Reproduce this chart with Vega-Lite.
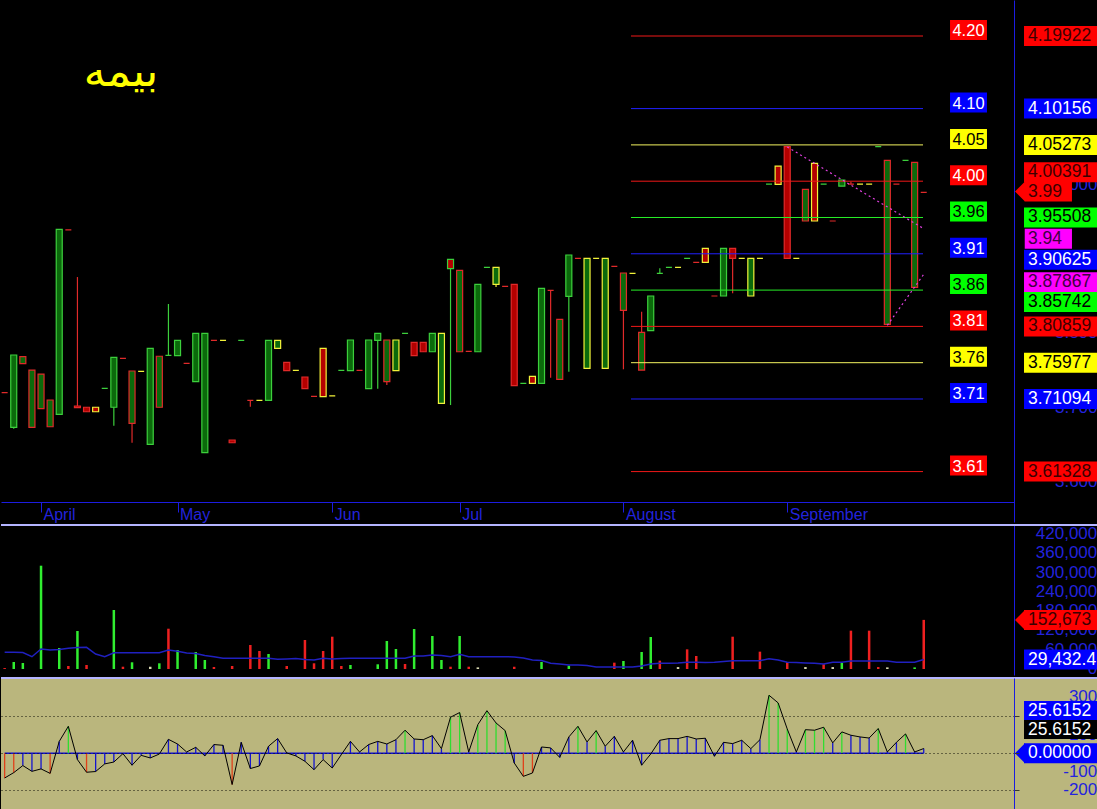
{
"$schema": "https://vega.github.io/schema/vega-lite/v6.json",
"background": "#000000",
"padding": 0,
"spacing": 3,
"bounds": "flush",
"config": {"view": {"stroke": null}, "axis": {"labelFont": "Liberation Sans", "labelOverlap": false}, "scale": {"continuousPadding": 0}},
"datasets": {
"bars": [
{"i":0,"o":3.7194,"h":3.7194,"l":3.7194,"c":3.7194,"e":"dn","vol":3000,"vd":"dn","ma":51900,"osc":-133},
{"i":1,"o":3.6728,"h":3.7701,"l":3.671,"c":3.7701,"e":"up","vol":21760,"vd":"up","ma":51900,"osc":-104},
{"i":2,"o":3.7584,"h":3.7678,"l":3.7584,"c":3.7678,"e":"dn","vol":18650,"vd":"up","ma":51000,"osc":-66},
{"i":3,"o":3.6728,"h":3.7499,"l":3.6728,"c":3.7499,"e":"dn","vol":0,"vd":"up","ma":38240,"osc":-97},
{"i":4,"o":3.6979,"h":3.7445,"l":3.6979,"c":3.7445,"e":"dn","vol":321150,"vd":"up","ma":62180,"osc":-84},
{"i":5,"o":3.6736,"h":3.7096,"l":3.6736,"c":3.7096,"e":"dn","vol":0,"vd":"dn","ma":59070,"osc":-108},
{"i":6,"o":3.6903,"h":3.9392,"l":3.6903,"c":3.9392,"e":"up","vol":65290,"vd":"up","ma":60600,"osc":64},
{"i":7,"o":3.9383,"h":3.9383,"l":3.9383,"c":3.9383,"e":"dn","vol":9330,"vd":"dn","ma":64350,"osc":145},
{"i":8,"o":3.7015,"h":3.875,"l":3.6992,"c":3.6992,"e":"dn","vol":118130,"vd":"up","ma":66800,"osc":-34},
{"i":9,"o":3.6998,"h":3.6998,"l":3.6938,"c":3.6938,"e":"dn","vol":12430,"vd":"dn","ma":67500,"osc":-102},
{"i":10,"o":3.6998,"h":3.6998,"l":3.6938,"c":3.6938,"e":"fl","vol":0,"vd":"dn","ma":46630,"osc":-98},
{"i":11,"o":3.7253,"h":3.7253,"l":3.7253,"c":3.7253,"e":"up","vol":0,"vd":"up","ma":38240,"osc":-57},
{"i":12,"o":3.6998,"h":3.767,"l":3.675,"c":3.767,"e":"up","vol":183420,"vd":"up","ma":50670,"osc":-47},
{"i":13,"o":3.7657,"h":3.7657,"l":3.7657,"c":3.7657,"e":"dn","vol":7150,"vd":"dn","ma":50670,"osc":-2},
{"i":14,"o":3.6782,"h":3.7486,"l":3.6521,"c":3.7486,"e":"dn","vol":20830,"vd":"up","ma":50670,"osc":-64},
{"i":15,"o":3.7482,"h":3.7482,"l":3.7482,"c":3.7482,"e":"fl","vol":0,"vd":"fl","ma":50670,"osc":-11},
{"i":16,"o":3.65,"h":3.7791,"l":3.65,"c":3.7791,"e":"up","vol":7000,"vd":"fl","ma":50670,"osc":-25},
{"i":17,"o":3.6998,"h":3.7684,"l":3.6998,"c":3.7684,"e":"dn","vol":17720,"vd":"up","ma":50670,"osc":-4},
{"i":18,"o":3.7697,"h":3.8387,"l":3.7697,"c":3.7697,"e":"up","vol":125280,"vd":"dn","ma":59070,"osc":75},
{"i":19,"o":3.7692,"h":3.7899,"l":3.7692,"c":3.7899,"e":"up","vol":59070,"vd":"up","ma":55000,"osc":50},
{"i":20,"o":3.7589,"h":3.7589,"l":3.7589,"c":3.7589,"e":"dn","vol":0,"vd":"dn","ma":49740,"osc":7},
{"i":21,"o":3.7342,"h":3.7993,"l":3.7342,"c":3.7993,"e":"up","vol":52850,"vd":"up","ma":48190,"osc":32},
{"i":22,"o":3.6387,"h":3.7993,"l":3.6387,"c":3.7993,"e":"up","vol":27980,"vd":"up","ma":41970,"osc":-14},
{"i":23,"o":3.7899,"h":3.7899,"l":3.7899,"c":3.7899,"e":"dn","vol":6200,"vd":"dn","ma":38240,"osc":47},
{"i":24,"o":3.7899,"h":3.7899,"l":3.7899,"c":3.7899,"e":"fl","vol":0,"vd":"fl","ma":33260,"osc":43},
{"i":25,"o":3.6558,"h":3.6558,"l":3.6521,"c":3.6521,"e":"dn","vol":9330,"vd":"dn","ma":33260,"osc":-168},
{"i":26,"o":3.7899,"h":3.7899,"l":3.7899,"c":3.7899,"e":"up","vol":0,"vd":"up","ma":33260,"osc":59},
{"i":27,"o":3.7092,"h":3.7092,"l":3.7006,"c":3.7092,"e":"dn","vol":74610,"vd":"dn","ma":33260,"osc":-82},
{"i":28,"o":3.7092,"h":3.7092,"l":3.7092,"c":3.7092,"e":"fl","vol":55960,"vd":"dn","ma":33260,"osc":-68},
{"i":29,"o":3.7092,"h":3.7899,"l":3.7092,"c":3.7899,"e":"up","vol":46630,"vd":"up","ma":33260,"osc":38},
{"i":30,"o":3.7791,"h":3.7899,"l":3.7791,"c":3.7899,"e":"fl","vol":0,"vd":"up","ma":30150,"osc":79},
{"i":31,"o":3.7603,"h":3.7603,"l":3.749,"c":3.749,"e":"dn","vol":9330,"vd":"dn","ma":31090,"osc":2},
{"i":32,"o":3.7495,"h":3.7495,"l":3.7495,"c":3.7495,"e":"fl","vol":0,"vd":"fl","ma":32640,"osc":-14},
{"i":33,"o":3.7405,"h":3.7405,"l":3.7248,"c":3.7248,"e":"dn","vol":90160,"vd":"dn","ma":29530,"osc":-43},
{"i":34,"o":3.7145,"h":3.7145,"l":3.7145,"c":3.7145,"e":"dn","vol":17720,"vd":"dn","ma":27980,"osc":-88},
{"i":35,"o":3.7791,"h":3.7791,"l":3.714,"c":3.714,"e":"fl","vol":55960,"vd":"dn","ma":33260,"osc":-34},
{"i":36,"o":3.715,"h":3.715,"l":3.715,"c":3.715,"e":"fl","vol":100420,"vd":"dn","ma":31090,"osc":-79},
{"i":37,"o":3.7495,"h":3.7495,"l":3.7495,"c":3.7495,"e":"up","vol":9330,"vd":"dn","ma":32640,"osc":-7},
{"i":38,"o":3.749,"h":3.7903,"l":3.749,"c":3.7903,"e":"up","vol":12430,"vd":"up","ma":33260,"osc":64},
{"i":39,"o":3.7495,"h":3.7495,"l":3.7495,"c":3.7495,"e":"dn","vol":0,"vd":"dn","ma":33260,"osc":7},
{"i":40,"o":3.7248,"h":3.7903,"l":3.7248,"c":3.7903,"e":"up","vol":0,"vd":"up","ma":33260,"osc":47},
{"i":41,"o":3.7899,"h":3.7993,"l":3.7248,"c":3.7993,"e":"up","vol":14610,"vd":"up","ma":33260,"osc":64},
{"i":42,"o":3.7342,"h":3.7903,"l":3.7298,"c":3.7903,"e":"dn","vol":87050,"vd":"up","ma":33260,"osc":50},
{"i":43,"o":3.749,"h":3.7903,"l":3.749,"c":3.7903,"e":"fl","vol":62180,"vd":"up","ma":33260,"osc":73},
{"i":44,"o":3.7993,"h":3.7993,"l":3.7993,"c":3.7993,"e":"up","vol":15540,"vd":"dn","ma":33260,"osc":124},
{"i":45,"o":3.7872,"h":3.7872,"l":3.7692,"c":3.7692,"e":"dn","vol":124350,"vd":"up","ma":40410,"osc":77},
{"i":46,"o":3.7872,"h":3.7872,"l":3.7745,"c":3.7745,"e":"dn","vol":0,"vd":"dn","ma":40410,"osc":73},
{"i":47,"o":3.7745,"h":3.7993,"l":3.7745,"c":3.7993,"e":"up","vol":102590,"vd":"up","ma":43520,"osc":95},
{"i":48,"o":3.7051,"h":3.7993,"l":3.7051,"c":3.7993,"e":"fl","vol":27980,"vd":"up","ma":41970,"osc":25},
{"i":49,"o":3.8988,"h":3.8988,"l":3.7028,"c":3.8862,"e":"up","vol":7150,"vd":"dn","ma":38240,"osc":194},
{"i":50,"o":3.7745,"h":3.884,"l":3.7745,"c":3.884,"e":"dn","vol":102590,"vd":"up","ma":45700,"osc":219},
{"i":51,"o":3.7751,"h":3.7751,"l":3.7751,"c":3.7751,"e":"dn","vol":7150,"vd":"dn","ma":38240,"osc":7},
{"i":52,"o":3.7745,"h":3.8652,"l":3.7745,"c":3.8652,"e":"up","vol":5000,"vd":"fl","ma":38240,"osc":154},
{"i":53,"o":3.8881,"h":3.8881,"l":3.8881,"c":3.8881,"e":"up","vol":0,"vd":"up","ma":38240,"osc":229},
{"i":54,"o":3.8652,"h":3.8881,"l":3.8616,"c":3.8881,"e":"fl","vol":0,"vd":"up","ma":38240,"osc":163},
{"i":55,"o":3.8625,"h":3.8625,"l":3.8625,"c":3.8625,"e":"dn","vol":0,"vd":"dn","ma":38240,"osc":122},
{"i":56,"o":3.8652,"h":3.8652,"l":3.7288,"c":3.7288,"e":"dn","vol":7000,"vd":"dn","ma":37300,"osc":-52},
{"i":57,"o":3.732,"h":3.732,"l":3.732,"c":3.732,"e":"up","vol":0,"vd":"up","ma":34200,"osc":-124},
{"i":58,"o":3.7414,"h":3.7414,"l":3.732,"c":3.732,"e":"fl","vol":0,"vd":"dn","ma":27980,"osc":-106},
{"i":59,"o":3.732,"h":3.8598,"l":3.732,"c":3.8598,"e":"up","vol":21760,"vd":"up","ma":26420,"osc":34},
{"i":60,"o":3.8571,"h":3.8571,"l":3.7396,"c":3.8571,"e":"dn","vol":0,"vd":"dn","ma":17720,"osc":29},
{"i":61,"o":3.7374,"h":3.8181,"l":3.7374,"c":3.8181,"e":"dn","vol":0,"vd":"dn","ma":15540,"osc":-22},
{"i":62,"o":3.8491,"h":3.9046,"l":3.7476,"c":3.9046,"e":"up","vol":10260,"vd":"up","ma":12430,"osc":88},
{"i":63,"o":3.9002,"h":3.9002,"l":3.9002,"c":3.9002,"e":"dn","vol":0,"vd":"dn","ma":12430,"osc":145},
{"i":64,"o":3.7522,"h":3.9002,"l":3.7522,"c":3.9002,"e":"fl","vol":0,"vd":"up","ma":10880,"osc":61},
{"i":65,"o":3.9002,"h":3.9002,"l":3.9002,"c":3.9002,"e":"fl","vol":0,"vd":"fl","ma":6220,"osc":122},
{"i":66,"o":3.7522,"h":3.9002,"l":3.7522,"c":3.9002,"e":"fl","vol":0,"vd":"up","ma":6220,"osc":38},
{"i":67,"o":3.8894,"h":3.8894,"l":3.8894,"c":3.8894,"e":"dn","vol":19690,"vd":"dn","ma":6220,"osc":91},
{"i":68,"o":3.8302,"h":3.8804,"l":3.7509,"c":3.8804,"e":"dn","vol":24870,"vd":"up","ma":6220,"osc":7},
{"i":69,"o":3.88,"h":3.88,"l":3.88,"c":3.88,"e":"fl","vol":0,"vd":"fl","ma":6220,"osc":70},
{"i":70,"o":3.7499,"h":3.8284,"l":3.7499,"c":3.8006,"e":"dn","vol":52850,"vd":"up","ma":9330,"osc":-64},
{"i":71,"o":3.8028,"h":3.8495,"l":3.8028,"c":3.8495,"e":"up","vol":99480,"vd":"up","ma":15540,"osc":-4},
{"i":72,"o":3.88,"h":3.8867,"l":3.88,"c":3.88,"e":"up","vol":25910,"vd":"dn","ma":17720,"osc":70},
{"i":73,"o":3.8881,"h":3.8881,"l":3.8881,"c":3.8881,"e":"up","vol":0,"vd":"up","ma":17720,"osc":79},
{"i":74,"o":3.8881,"h":3.8881,"l":3.8881,"c":3.8881,"e":"fl","vol":6000,"vd":"fl","ma":18650,"osc":79},
{"i":75,"o":3.9002,"h":3.9002,"l":3.9002,"c":3.9002,"e":"up","vol":61140,"vd":"dn","ma":20830,"osc":91},
{"i":76,"o":3.8948,"h":3.8948,"l":3.8948,"c":3.8948,"e":"dn","vol":40410,"vd":"dn","ma":20830,"osc":77},
{"i":77,"o":3.9136,"h":3.9136,"l":3.8948,"c":3.8948,"e":"fl","vol":0,"vd":"fl","ma":20200,"osc":81},
{"i":78,"o":3.8495,"h":3.8495,"l":3.8495,"c":3.8495,"e":"dn","vol":0,"vd":"dn","ma":20830,"osc":-16},
{"i":79,"o":3.8495,"h":3.9136,"l":3.8495,"c":3.9136,"e":"up","vol":0,"vd":"up","ma":23300,"osc":59},
{"i":80,"o":3.9136,"h":3.9136,"l":3.8531,"c":3.9002,"e":"dn","vol":100420,"vd":"dn","ma":25800,"osc":52},
{"i":81,"o":3.9002,"h":3.9002,"l":3.9002,"c":3.9002,"e":"fl","vol":0,"vd":"fl","ma":25800,"osc":70},
{"i":82,"o":3.8495,"h":3.9002,"l":3.8495,"c":3.9002,"e":"fl","vol":0,"vd":"fl","ma":25800,"osc":25},
{"i":83,"o":3.9002,"h":3.9002,"l":3.9002,"c":3.9002,"e":"fl","vol":53890,"vd":"dn","ma":25800,"osc":73},
{"i":84,"o":4.0001,"h":4.0001,"l":4.0001,"c":4.0001,"e":"up","vol":0,"vd":"up","ma":32020,"osc":312},
{"i":85,"o":4.0243,"h":4.0243,"l":3.9997,"c":3.9997,"e":"fl","vol":0,"vd":"fl","ma":27980,"osc":271},
{"i":86,"o":4.0503,"h":4.0503,"l":3.9002,"c":3.9002,"e":"dn","vol":20830,"vd":"dn","ma":20830,"osc":131},
{"i":87,"o":3.9002,"h":3.9002,"l":3.9002,"c":3.9002,"e":"fl","vol":0,"vd":"fl","ma":20200,"osc":7},
{"i":88,"o":3.9504,"h":3.993,"l":3.9504,"c":3.993,"e":"dn","vol":6000,"vd":"fl","ma":18650,"osc":127},
{"i":89,"o":4.028,"h":4.028,"l":3.9504,"c":3.9504,"e":"fl","vol":0,"vd":"fl","ma":17720,"osc":124},
{"i":90,"o":4.0001,"h":4.0001,"l":4.0001,"c":4.0001,"e":"up","vol":14610,"vd":"dn","ma":15540,"osc":140},
{"i":91,"o":3.9504,"h":3.9504,"l":3.9504,"c":3.9504,"e":"dn","vol":6000,"vd":"fl","ma":20830,"osc":56},
{"i":92,"o":3.9974,"h":4.0055,"l":3.9974,"c":4.0055,"e":"up","vol":18650,"vd":"up","ma":20830,"osc":115},
{"i":93,"o":4.0001,"h":4.0032,"l":4.0001,"c":4.0001,"e":"dn","vol":119170,"vd":"dn","ma":24870,"osc":97},
{"i":94,"o":4.0001,"h":4.0001,"l":4.0001,"c":4.0001,"e":"fl","vol":0,"vd":"fl","ma":24870,"osc":88},
{"i":95,"o":4.0001,"h":4.0001,"l":4.0001,"c":4.0001,"e":"fl","vol":119170,"vd":"dn","ma":24870,"osc":82},
{"i":96,"o":4.0503,"h":4.0503,"l":4.0503,"c":4.0503,"e":"up","vol":6000,"vd":"dn","ma":24870,"osc":133},
{"i":97,"o":3.8114,"h":4.032,"l":3.8114,"c":4.032,"e":"dn","vol":5000,"vd":"fl","ma":24870,"osc":7},
{"i":98,"o":4.0001,"h":4.0001,"l":4.0001,"c":4.0001,"e":"dn","vol":0,"vd":"dn","ma":20830,"osc":59},
{"i":99,"o":4.032,"h":4.032,"l":4.032,"c":4.032,"e":"up","vol":0,"vd":"up","ma":20830,"osc":104},
{"i":100,"o":3.8612,"h":4.0293,"l":3.8612,"c":4.0293,"e":"dn","vol":5000,"vd":"up","ma":20830,"osc":7},
{"i":101,"o":3.989,"h":3.989,"l":3.989,"c":3.989,"e":"dn","vol":152673,"vd":"dn","ma":29432,"osc":25.6}
],
"fib": [
{"v":4.19922,"lbl":"4.20","c":"r"},{"v":4.10156,"lbl":"4.10","c":"b"},{"v":4.05273,"lbl":"4.05","c":"y"},{"v":4.00391,"lbl":"4.00","c":"r"},{"v":3.95508,"lbl":"3.96","c":"g"},{"v":3.90625,"lbl":"3.91","c":"b"},{"v":3.85742,"lbl":"3.86","c":"g"},{"v":3.80859,"lbl":"3.81","c":"r"},{"v":3.75977,"lbl":"3.76","c":"y"},{"v":3.71094,"lbl":"3.71","c":"b"},{"v":3.61328,"lbl":"3.61","c":"r"}
],
"ptags": [
{"v":4.19922,"t":"4.19922","c":"r"},{"v":4.10156,"t":"4.10156","c":"b"},{"v":4.05273,"t":"4.05273","c":"y"},{"v":4.00391,"t":"4.00391","c":"r"},{"v":3.99,"t":"3.99","c":"r","last":true},{"v":3.95508,"t":"3.95508","c":"g"},{"v":3.94,"t":"3.94","c":"m"},{"v":3.90625,"t":"3.90625","c":"b"},{"v":3.87867,"t":"3.87867","c":"m"},{"v":3.85742,"t":"3.85742","c":"g"},{"v":3.80859,"t":"3.80859","c":"r"},{"v":3.75977,"t":"3.75977","c":"y"},{"v":3.71094,"t":"3.71094","c":"b"},{"v":3.61328,"t":"3.61328","c":"r"}
],
"vtags": [
{"v":152673,"t":"152,673","c":"r","last":true},{"v":29432.4,"t":"29,432.4","c":"b"}
],
"vlbl": [
{"v":0,"t":"0"},{"v":60000,"t":"60,000"},{"v":120000,"t":"120,000"},{"v":180000,"t":"180,000"},{"v":240000,"t":"240,000"},{"v":300000,"t":"300,000"},{"v":360000,"t":"360,000"},{"v":420000,"t":"420,000"}
],
"otags": [
{"v":25.6152,"t":"25.6152","c":"b"},{"v":25.6152,"t":"25.6152","c":"k"},{"v":0,"t":"0.00000","c":"b","last":true}
],
"olbl": [
{"v":300,"t":"300"},{"v":200,"t":"200"},{"v":100,"t":"100"},{"v":0,"t":"0"},{"v":-100,"t":"-100"},{"v":-200,"t":"-200"}
],
"trend": [
{"k":"a","i":86,"v":4.05},{"k":"a","i":101,"v":3.94},{"k":"b","i":97,"v":3.81},{"k":"b","i":101,"v":3.8787}
],
"ttl": [{"t":"بیمه"}]
},
"vconcat": [
{
"width": 1013, "height": 522,
"layer": [
{"data":{"name":"bars"},"mark":{"type":"rule","strokeWidth":1.2},
 "encoding":{
  "x":{"field":"i","type":"quantitative","title":null,"scale":{"domain":[-0.4,110.92],"nice":false,"zero":false,"padding":0},
   "axis":{"orient":"bottom","offset":-20,"values":[4,19,36,50,68,86],"labelExpr":"['April','May','Jun','Jul','August','September'][indexof([4,19,36,50,68,86], datum.value)]","domainColor":"#1c1ce0","tickColor":"#1c1ce0","tickSize":10,"labelColor":"#2323dc","labelFontSize":16,"labelAlign":"left","labelBaseline":"top","labelPadding":-6,"labelOffset":2,"labelFlush":false,"labelOverlap":false,"grid":false,"title":null}},
  "y":{"field":"l","type":"quantitative","title":null,"scale":{"domain":[3.54547,4.24765],"nice":false,"zero":false,"padding":0},
   "axis":{"orient":"right","values":[3.6,3.7,3.8,3.9,4.0,4.1,4.2],"format":".3f","domainColor":"#1c1ce0","tickColor":"#000000","tickSize":5,"labelColor":"#2323dc","labelFontSize":17,"labelAlign":"right","labelPadding":78,"labelFlush":false,"labelOverlap":false,"grid":false,"title":null}},
  "y2":{"field":"h"},
  "color":{"condition":[{"test":"datum.e==='up'","value":"#3ccf3c"},{"test":"datum.e==='dn'","value":"#e02a2a"}],"value":"#f2f23a"}}},
{"data":{"name":"bars"},"mark":{"type":"bar","width":6,"strokeWidth":1.2},
 "encoding":{
  "x":{"field":"i","type":"quantitative","title":null},
  "y":{"field":"o","type":"quantitative","title":null},
  "y2":{"field":"c"},
  "fill":{"condition":{"test":"datum.c > datum.o","value":"#0b6a0b"},"value":"#b40000"},
  "stroke":{"condition":[{"test":"datum.e==='up'","value":"#3ccf3c"},{"test":"datum.e==='dn'","value":"#e02a2a"}],"value":"#f2f23a"}}},
{"data":{"name":"fib"},"mark":{"type":"rule","strokeWidth":1},
 "encoding":{"x":{"datum":68.83},"x2":{"datum":100.92},"y":{"field":"v","type":"quantitative","title":null},
  "color":{"condition":[{"test":"datum.c==='r'","value":"#f01818"},{"test":"datum.c==='b'","value":"#2020ff"},{"test":"datum.c==='y'","value":"#f4f460"}],"value":"#28ee28"}}},
{"data":{"name":"trend"},"mark":{"type":"line","strokeDash":[2,3],"strokeWidth":1.2,"color":"#e040e0"},
 "encoding":{"x":{"field":"i","type":"quantitative","title":null},"y":{"field":"v","type":"quantitative","title":null},"detail":{"field":"k","type":"nominal"}}},
{"data":{"name":"fib"},"mark":{"type":"bar","orient":"horizontal","size":20,"yOffset":-6},
 "encoding":{"x":{"datum":103.89},"x2":{"datum":107.95},"y":{"field":"v","type":"quantitative","title":null},
  "fill":{"condition":[{"test":"datum.c==='r'","value":"#ff0000"},{"test":"datum.c==='b'","value":"#0000ff"},{"test":"datum.c==='y'","value":"#ffff00"},{"test":"datum.c==='g'","value":"#00ff00"}],"value":"#000000"}}},
{"data":{"name":"fib"},"mark":{"type":"text","align":"center","baseline":"middle","font":"Liberation Sans","fontSize":16.5,"yOffset":-5},
 "encoding":{"x":{"datum":105.92},"y":{"field":"v","type":"quantitative","title":null},"text":{"field":"lbl"},
  "fill":{"condition":{"test":"datum.c==='r' || datum.c==='b'","value":"#ffffff"},"value":"#000000"}}},
{"data":{"name":"ttl"},"mark":{"type":"text","font":"DejaVu Sans","fontSize":44,"color":"#ffff00","align":"center","baseline":"middle"},
 "encoding":{"x":{"datum":12.79},"y":{"datum":4.1495},"text":{"field":"t"}}},
{"data":{"name":"ptags"},"transform":[{"filter":"indexof(['4.00391','3.94','3.87867','3.90625','3.85742'], datum.t) < 0"}],
 "layer":[
  {"transform":[{"filter":"length(datum.t) > 4"}],"mark":{"type":"bar","orient":"horizontal","size":20},
   "encoding":{"x":{"datum":112.02},"x2":{"datum":120.15},"y":{"field":"v","type":"quantitative","title":null},
    "fill":{"condition":[{"test":"datum.c==='r'","value":"#ff0000"},{"test":"datum.c==='b'","value":"#0000ff"},{"test":"datum.c==='y'","value":"#ffff00"},{"test":"datum.c==='g'","value":"#00ff00"},{"test":"datum.c==='m'","value":"#ff00ff"}],"value":"#000000"}}},
  {"transform":[{"filter":"length(datum.t) <= 4"}],"mark":{"type":"bar","orient":"horizontal","size":20},
   "encoding":{"x":{"datum":112.1},"x2":{"datum":117.29},"y":{"field":"v","type":"quantitative","title":null},
    "fill":{"condition":[{"test":"datum.c==='r'","value":"#ff0000"},{"test":"datum.c==='b'","value":"#0000ff"},{"test":"datum.c==='y'","value":"#ffff00"},{"test":"datum.c==='g'","value":"#00ff00"},{"test":"datum.c==='m'","value":"#ff00ff"}],"value":"#000000"}}},
  {"transform":[{"filter":"datum.last === true"}],"mark":{"type":"point","shape":"M0,-1L-1,0L0,1Z","size":400,"filled":true,"opacity":1,"strokeWidth":0},
   "encoding":{"x":{"datum":112.13},"y":{"field":"v","type":"quantitative","title":null},"fill":{"value":"#ff0000"}}},
  {"mark":{"type":"text","align":"left","baseline":"middle","font":"Liberation Sans","fontSize":17.5},
   "encoding":{"x":{"datum":112.46},"y":{"field":"v","type":"quantitative","title":null},"text":{"field":"t"},
    "fill":{"condition":[{"test":"datum.c==='b' || datum.c==='k'","value":"#ffffff"},{"test":"datum.c==='r'","value":"#3c0000"},{"test":"datum.c==='m'","value":"#400040"}],"value":"#000000"}}}
 ]},
{"data":{"name":"ptags"},"transform":[{"filter":"datum.t==='4.00391'"}],
 "layer":[
  {"mark":{"type":"bar","orient":"horizontal","size":20,"yOffset":-9},
   "encoding":{"x":{"datum":112.02},"x2":{"datum":120.15},"y":{"field":"v","type":"quantitative","title":null},"fill":{"value":"#ff0000"}}},
  {"mark":{"type":"text","align":"left","baseline":"middle","font":"Liberation Sans","fontSize":17.5,"yOffset":-9},
   "encoding":{"x":{"datum":112.46},"y":{"field":"v","type":"quantitative","title":null},"text":{"field":"t"},"fill":{"value":"#3c0000"}}}
 ]},
{"data":{"name":"ptags"},"transform":[{"filter":"datum.t==='3.94' || datum.t==='3.87867'"}],
 "layer":[
  {"transform":[{"filter":"length(datum.t) > 4"}],"mark":{"type":"bar","orient":"horizontal","size":20,"yOffset":8},
   "encoding":{"x":{"datum":112.02},"x2":{"datum":120.15},"y":{"field":"v","type":"quantitative","title":null},"fill":{"value":"#ff00ff"}}},
  {"transform":[{"filter":"length(datum.t) <= 4"}],"mark":{"type":"bar","orient":"horizontal","size":20,"yOffset":10},
   "encoding":{"x":{"datum":112.1},"x2":{"datum":117.29},"y":{"field":"v","type":"quantitative","title":null},"fill":{"value":"#ff00ff"}}},
  {"transform":[{"filter":"length(datum.t) > 4"}],"mark":{"type":"text","align":"left","baseline":"middle","font":"Liberation Sans","fontSize":17.5,"yOffset":8},
   "encoding":{"x":{"datum":112.46},"y":{"field":"v","type":"quantitative","title":null},"text":{"field":"t"},"fill":{"value":"#400040"}}},
  {"transform":[{"filter":"length(datum.t) <= 4"}],"mark":{"type":"text","align":"left","baseline":"middle","font":"Liberation Sans","fontSize":17.5,"yOffset":10},
   "encoding":{"x":{"datum":112.46},"y":{"field":"v","type":"quantitative","title":null},"text":{"field":"t"},"fill":{"value":"#400040"}}}
 ]},
{"data":{"name":"ptags"},"transform":[{"filter":"datum.t==='3.90625'"}],
 "layer":[
  {"mark":{"type":"bar","orient":"horizontal","size":20,"yOffset":6},
   "encoding":{"x":{"datum":112.02},"x2":{"datum":120.15},"y":{"field":"v","type":"quantitative","title":null},"fill":{"value":"#0000ff"}}},
  {"mark":{"type":"text","align":"left","baseline":"middle","font":"Liberation Sans","fontSize":17.5,"yOffset":6},
   "encoding":{"x":{"datum":112.46},"y":{"field":"v","type":"quantitative","title":null},"text":{"field":"t"},"fill":{"value":"#ffffff"}}}
 ]},
{"data":{"name":"ptags"},"transform":[{"filter":"datum.t==='3.85742'"}],
 "layer":[
  {"mark":{"type":"bar","orient":"horizontal","size":20,"yOffset":12},
   "encoding":{"x":{"datum":112.02},"x2":{"datum":120.15},"y":{"field":"v","type":"quantitative","title":null},"fill":{"value":"#00ff00"}}},
  {"mark":{"type":"text","align":"left","baseline":"middle","font":"Liberation Sans","fontSize":17.5,"yOffset":12},
   "encoding":{"x":{"datum":112.46},"y":{"field":"v","type":"quantitative","title":null},"text":{"field":"t"},"fill":{"value":"#000000"}}}
 ]}
]
},
{
"width": 1013, "height": 150,
"layer": [
{"data":{"name":"bars"},"mark":{"type":"bar","width":2.5},
 "encoding":{
  "x":{"field":"i","type":"quantitative","title":null,"scale":{"domain":[-0.4,110.92],"nice":false,"zero":false,"padding":0},"axis":null},
  "y":{"field":"vol","type":"quantitative","title":null,"scale":{"domain":[-18653,447670],"nice":false,"zero":false,"padding":0},
   "axis":{"orient":"right","values":[0,60000,120000,180000,240000,300000,360000,420000],"labels":false,"domainColor":"#1c1ce0","tickColor":"#000000","tickSize":5,"grid":false,"title":null}},
  "color":{"condition":[{"test":"datum.vd==='up'","value":"#30ee30"},{"test":"datum.vd==='dn'","value":"#ee2020"}],"value":"#d8d8b0"}}},
{"data":{"name":"bars"},"mark":{"type":"line","color":"#2020c0","strokeWidth":1.5},
 "encoding":{"x":{"field":"i","type":"quantitative","title":null,"axis":null},"y":{"field":"ma","type":"quantitative","title":null}}},
{"data":{"name":"vlbl"},"mark":{"type":"text","align":"right","baseline":"middle","font":"Liberation Sans","fontSize":17,"color":"#2323dc"},
 "encoding":{"x":{"datum":120.07,"axis":null},"y":{"field":"v","type":"quantitative","title":null},"text":{"field":"t"}}},
{"data":{"name":"vtags"},
 "layer":[
  {"mark":{"type":"bar","orient":"horizontal","size":20},
   "encoding":{"x":{"datum":112.02,"axis":null},"x2":{"datum":120.15},"y":{"field":"v","type":"quantitative","title":null},
    "fill":{"condition":{"test":"datum.c==='r'","value":"#ff0000"},"value":"#0000ff"}}},
  {"transform":[{"filter":"datum.last === true"}],"mark":{"type":"point","shape":"M0,-1L-1,0L0,1Z","size":400,"filled":true,"opacity":1,"strokeWidth":0},
   "encoding":{"x":{"datum":112.13,"axis":null},"y":{"field":"v","type":"quantitative","title":null},"fill":{"value":"#ff0000"}}},
  {"mark":{"type":"text","align":"left","baseline":"middle","font":"Liberation Sans","fontSize":17.5},
   "encoding":{"x":{"datum":112.46,"axis":null},"y":{"field":"v","type":"quantitative","title":null},"text":{"field":"t"},
    "fill":{"condition":{"test":"datum.c==='r'","value":"#3c0000"},"value":"#ffffff"}}}
 ]},
{"data":{"values":[{}]},"mark":{"type":"rule","color":"#b4b4ff","strokeWidth":2},
 "encoding":{"x":{"datum":-0.4,"axis":null},"x2":{"datum":120.15},"y":{"datum":447670}}}
]
},
{
"width": 1013, "height": 131,
"view": {"fill": "#bab67d"},
"layer": [
{"data":{"values":[{}]},"mark":{"type":"rect","color":"#bab67d"},
 "encoding":{"x":{"datum":110.92,"axis":null},"x2":{"datum":120.15},"y":{"datum":-299.5},"y2":{"datum":404.8}}},
{"data":{"name":"bars"},"mark":{"type":"rule","color":"#1010d0","strokeWidth":1.5},
 "encoding":{"x":{"aggregate":"min","field":"i","type":"quantitative","title":null,"axis":null},"x2":{"aggregate":"max","field":"i"},"y":{"datum":0}}},
{"data":{"name":"bars"},"mark":{"type":"rule","strokeWidth":1.3},
 "encoding":{
  "x":{"field":"i","type":"quantitative","title":null,"scale":{"domain":[-0.4,110.92],"nice":false,"zero":false,"padding":0},"axis":null},
  "y":{"field":"osc","type":"quantitative","title":null,"scale":{"domain":[-299.5,404.8],"nice":false,"zero":false,"padding":0},
   "axis":{"orient":"right","values":[-200,-100,0,100,200,300],"labels":false,"domainColor":"#1c1ce0","tickColor":"#3a3a2a","tickSize":5,"grid":true,"gridColor":"#101008","gridDash":[1,3],"gridWidth":1,"zindex":1,"title":null}},
  "y2":{"datum":0},
  "color":{"condition":[{"test":"datum.osc > 100","value":"#30dd30"},{"test":"datum.osc < -100","value":"#e0401a"}],"value":"#1414d0"}}},
{"data":{"name":"bars"},"mark":{"type":"line","color":"#000000","strokeWidth":1},
 "encoding":{"x":{"field":"i","type":"quantitative","title":null,"axis":null},"y":{"field":"osc","type":"quantitative","title":null}}},
{"data":{"name":"olbl"},"mark":{"type":"text","align":"right","baseline":"middle","font":"Liberation Sans","fontSize":17,"color":"#2323dc"},
 "encoding":{"x":{"datum":120.07,"axis":null},"y":{"field":"v","type":"quantitative","title":null},"text":{"field":"t"}}},
{"data":{"name":"otags"},"transform":[{"filter":"datum.last === true"}],
 "layer":[
  {"mark":{"type":"bar","orient":"horizontal","size":20},
   "encoding":{"x":{"datum":112.02,"axis":null},"x2":{"datum":120.15},"y":{"field":"v","type":"quantitative","title":null},"fill":{"value":"#0000ff"}}},
  {"mark":{"type":"point","shape":"M0,-1L-1,0L0,1Z","size":400,"filled":true,"opacity":1,"strokeWidth":0},
   "encoding":{"x":{"datum":112.13,"axis":null},"y":{"field":"v","type":"quantitative","title":null},"fill":{"value":"#0000ff"}}},
  {"mark":{"type":"text","align":"left","baseline":"middle","font":"Liberation Sans","fontSize":17.5},
   "encoding":{"x":{"datum":112.46,"axis":null},"y":{"field":"v","type":"quantitative","title":null},"text":{"field":"t"},"fill":{"value":"#ffffff"}}}
 ]},
{"data":{"name":"otags"},"transform":[{"filter":"datum.c==='b' && datum.last !== true"}],
 "layer":[
  {"mark":{"type":"bar","orient":"horizontal","size":19,"yOffset":-38},
   "encoding":{"x":{"datum":112.02,"axis":null},"x2":{"datum":120.15},"y":{"field":"v","type":"quantitative","title":null},"fill":{"value":"#0000ff"}}},
  {"mark":{"type":"text","align":"left","baseline":"middle","font":"Liberation Sans","fontSize":17.5,"yOffset":-38},
   "encoding":{"x":{"datum":112.46,"axis":null},"y":{"field":"v","type":"quantitative","title":null},"text":{"field":"t"},"fill":{"value":"#ffffff"}}}
 ]},
{"data":{"name":"otags"},"transform":[{"filter":"datum.c==='k'"}],
 "layer":[
  {"mark":{"type":"bar","orient":"horizontal","size":19,"yOffset":-19},
   "encoding":{"x":{"datum":112.02,"axis":null},"x2":{"datum":120.15},"y":{"field":"v","type":"quantitative","title":null},"fill":{"value":"#000000"}}},
  {"mark":{"type":"text","align":"left","baseline":"middle","font":"Liberation Sans","fontSize":17.5,"yOffset":-19},
   "encoding":{"x":{"datum":112.46,"axis":null},"y":{"field":"v","type":"quantitative","title":null},"text":{"field":"t"},"fill":{"value":"#ffffff"}}}
 ]},
{"data":{"values":[{}]},"mark":{"type":"rule","color":"#b4b4ff","strokeWidth":2},
 "encoding":{"x":{"datum":-0.4,"axis":null},"x2":{"datum":120.15},"y":{"datum":404.8}}}
]
}
]
}
